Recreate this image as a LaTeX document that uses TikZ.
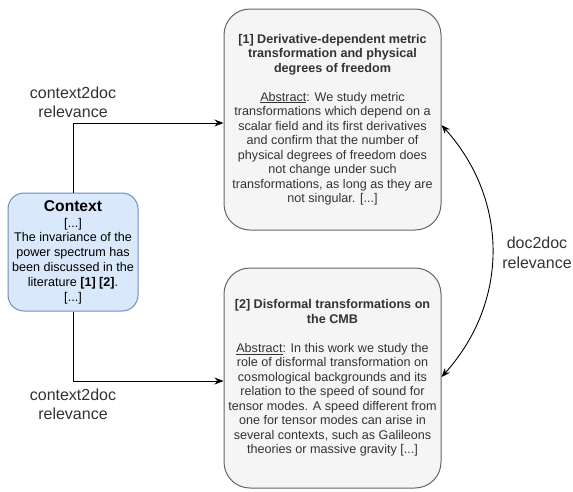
\documentclass[tikz,border=0pt]{standalone}
\usepackage{fontspec}
\setmainfont{Liberation Sans}
\usetikzlibrary{arrows.meta}
\definecolor{ctxfill}{HTML}{DAE8FC}
\definecolor{ctxdraw}{HTML}{6C8EBF}
\definecolor{docfill}{HTML}{F5F5F5}
\definecolor{docdraw}{HTML}{666666}
\definecolor{doctext}{HTML}{333333}
\tikzset{
  docbox/.style={draw=docdraw, fill=docfill, line width=1pt, rounded corners=26pt,
    minimum width=217pt, minimum height=221pt, inner sep=0pt, align=center,
    text=doctext, font=\fontsize{12.6}{14.5}\selectfont},
  ctxbox/.style={draw=ctxdraw, fill=ctxfill, line width=1pt, rounded corners=16pt,
    minimum width=130pt, minimum height=118pt, inner sep=0pt, align=center,
    text=black, font=\fontsize{12.6}{14.8}\selectfont},
  lbl/.style={align=center, text=doctext, inner sep=0pt, font=\fontsize{16}{19.5}\selectfont},
  arr/.style={draw=black, line width=1pt, -{Stealth[length=9pt,width=7pt]}},
  arrs/.style={draw=black, line width=0.9pt, {Stealth[length=9pt,width=7pt]}-{Stealth[length=9pt,width=7pt]}}
}
\begin{document}
\begin{tikzpicture}[x=1pt,y=-1pt]
\useasboundingbox (0,0) rectangle (573,491);
\node[docbox] (doc1) at (332.5,119.5) {%
\textbf{[1] Derivative-dependent metric}\\
\textbf{transformation and physical}\\
\textbf{degrees of freedom}\\[14.5pt]
\underline{Abstract}: We study metric\\
transformations which depend on a\\
scalar field and its first derivatives\\
and confirm that the number of\\
physical degrees of freedom does\\
not change under such\\
transformations, as long as they are\\
not singular. {[...]}};
\node[docbox, minimum height=220pt] (doc2) at (332.5,378) {%
\textbf{[2] Disformal transformations on}\\
\textbf{the CMB}\\[14.5pt]
\underline{Abstract}: In this work we study the\\
role of disformal transformation on\\
cosmological backgrounds and its\\
relation to the speed of sound for\\
tensor modes. A speed different from\\
one for tensor modes can arise in\\
several contexts, such as Galileons\\
theories or massive gravity {[...]}};
\node[ctxbox] (ctx) at (73,252) {%
{\fontsize{15.6}{18}\selectfont\textbf{Context}}\\[1pt]
{[...]}\\
The invariance of the\\
power spectrum has\\
been discussed in the\\
literature \textbf{[1] [2]}.\\
{[...]}};
\node[lbl] (l1) at (73,102.5) {context2doc\\relevance};
\node[lbl] (l2) at (73,404.5) {context2doc\\relevance};
\node[lbl] (l3) at (537,253) {doc2doc\\relevance};
\draw[arr] (ctx.north) |- ([yshift=-3.5pt]doc1.west);
\draw[arr] (ctx.south) |- ([yshift=-3pt]doc2.west);
\draw[arrs] ([yshift=-5.5pt]doc1.east) .. controls (509,200) and (509,302) .. ([yshift=1pt]doc2.east);
\end{tikzpicture}
\end{document}
